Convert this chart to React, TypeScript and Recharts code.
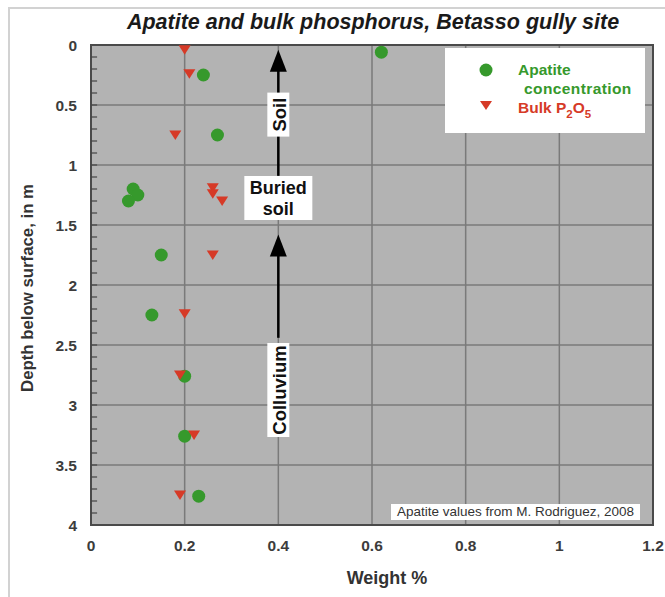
import {
  ScatterChart,
  Scatter,
  XAxis,
  YAxis,
  CartesianGrid,
  ReferenceArea,
  ReferenceLine,
  ReferenceDot,
  Legend,
} from "recharts";

const FONT = '"Liberation Sans", Arial, sans-serif';
const GREEN = "#36992c";
const RED = "#d63a27";

// Apatite concentration (weight %) vs depth (m)
const APATITE_DEPTH = [0.06, 0.25, 0.75, 1.2, 1.25, 1.3, 1.75, 2.25, 2.76, 3.26, 3.76];
const APATITE_WT = [0.62, 0.24, 0.27, 0.09, 0.1, 0.08, 0.15, 0.13, 0.2, 0.2, 0.23];

// Bulk P2O5 (weight %) vs depth (m)
const BULK_DEPTH = [0.04, 0.24, 0.75, 1.19, 1.24, 1.3, 1.75, 2.24, 2.75, 3.25, 3.75];
const BULK_WT = [0.2, 0.21, 0.18, 0.26, 0.26, 0.28, 0.26, 0.2, 0.19, 0.22, 0.19];

const X_TICKS = [0, 0.2, 0.4, 0.6, 0.8, 1, 1.2];
const Y_TICKS = [0, 0.5, 1, 1.5, 2, 2.5, 3, 3.5, 4];
// minor depth ticks every 0.1 m (drawn inside the left edge)
const Y_MINOR = Array.from({ length: 39 }, (_, i) => (i + 1) / 10);
const MINOR_LEN = 0.013;

// horizon annotations along x = 0.4
const ARROW_X = 0.4;
const ARROW_TIPS = [0.04, 1.58];
const ARROW_SHAFTS: [number, number][] = [
  [0.2, 1.09],
  [1.75, 2.44],
];
const HORIZONS = [
  { depth: 0.58, lines: ["Soil"], w: 22, h: 44, rotate: true },
  { depth: 1.275, lines: ["Buried", "soil"], w: 68, h: 44, rotate: false },
  { depth: 2.875, lines: ["Colluvium"], w: 22, h: 94, rotate: true },
];

const apatite = APATITE_WT.map((x, i) => ({ x, y: APATITE_DEPTH[i] }));
const bulk = BULK_WT.map((x, i) => ({ x, y: BULK_DEPTH[i] }));

function GreenDot(props: any) {
  const { cx, cy } = props;
  if (cx == null || cy == null) return null;
  return <circle cx={cx} cy={cy} r={6.5} fill={GREEN} />;
}

function RedTriangle(props: any) {
  const { cx, cy } = props;
  if (cx == null || cy == null) return null;
  return (
    <polygon
      points={`${cx - 6},${cy - 4.5} ${cx + 6},${cy - 4.5} ${cx},${cy + 5}`}
      fill={RED}
    />
  );
}

function ArrowHead(props: any) {
  const { cx, cy } = props;
  return (
    <polygon
      points={`${cx},${cy} ${cx - 8.5},${cy + 22} ${cx + 8.5},${cy + 22}`}
      fill="#000"
    />
  );
}

function makeBox(lines: string[], w: number, h: number, rotate: boolean) {
  return (props: any) => {
    const { cx, cy } = props;
    const textProps = {
      textAnchor: "middle" as const,
      dominantBaseline: "central" as const,
      fontFamily: FONT,
      fontWeight: "bold",
      fill: "#111",
    };
    return (
      <g>
        <rect x={cx - w / 2} y={cy - h / 2} width={w} height={h} fill="#fff" />
        {rotate ? (
          <text
            x={cx}
            y={cy + 1}
            transform={`rotate(-90 ${cx} ${cy})`}
            fontSize={18.5}
            {...textProps}
          >
            {lines[0]}
          </text>
        ) : (
          lines.map((t, i) => (
            <text
              key={t}
              x={cx}
              y={cy + (i - (lines.length - 1) / 2) * 21}
              fontSize={18}
              {...textProps}
            >
              {t}
            </text>
          ))
        )}
      </g>
    );
  };
}

function LegendBox() {
  return (
    <div
      style={{
        width: 200,
        height: 85,
        background: "#fff",
        position: "relative",
        fontFamily: FONT,
        fontWeight: "bold",
        fontSize: 15.5,
        lineHeight: "14px",
        whiteSpace: "nowrap",
      }}
    >
      <svg width={60} height={85} style={{ position: "absolute", left: 0, top: 0 }}>
        <circle cx={41} cy={22} r={6.5} fill={GREEN} />
        <polygon points="35,53 47,53 41,62" fill={RED} />
      </svg>
      <div style={{ position: "absolute", left: 73, top: 15, color: GREEN }}>Apatite</div>
      <div style={{ position: "absolute", left: 79, top: 34, color: GREEN, letterSpacing: 0.4 }}>
        concentration
      </div>
      <div style={{ position: "absolute", left: 73, top: 53, color: RED }}>
        Bulk P<sub style={{ fontSize: 11.5, verticalAlign: -5 }}>2</sub>O
        <sub style={{ fontSize: 11.5, verticalAlign: -5 }}>5</sub>
      </div>
    </div>
  );
}

const tickStyle = { fontSize: 15.5, fontWeight: "bold", fill: "#3c3c3c", fontFamily: FONT };

export default function App() {
  return (
    <div
      style={{
        position: "absolute",
        left: 0,
        top: 0,
        width: 665,
        height: 597,
        background: "#fff",
        fontFamily: FONT,
      }}
    >
      <div
        style={{
          position: "absolute",
          left: 8,
          top: 7,
          right: 0,
          bottom: 0,
          borderLeft: "2px solid #d2d2d2",
          borderTop: "2px solid #d2d2d2",
        }}
      />
      <ScatterChart
        width={665}
        height={597}
        margin={{ top: 45, right: 12, bottom: 42, left: 0 }}
      >
        <CartesianGrid
          fill="#b3b3b3"
          stroke="#7a7a7a"
          strokeWidth={1.5}
          strokeDasharray=""
        />
        <XAxis
          dataKey="x"
          type="number"
          domain={[0, 1.2]}
          ticks={X_TICKS}
          tick={tickStyle}
          tickLine={false}
          axisLine={false}
          tickMargin={9}
          height={30}
        />
        <YAxis
          dataKey="y"
          type="number"
          domain={[0, 4]}
          reversed
          ticks={Y_TICKS}
          tick={tickStyle}
          tickLine={false}
          axisLine={false}
          tickMargin={8}
          width={91}
        />
        {Y_MINOR.map((d) => (
          <ReferenceLine
            key={"m" + d}
            segment={[
              { x: 0, y: d },
              { x: MINOR_LEN, y: d },
            ]}
            stroke="#444"
            strokeWidth={1.2}
            ifOverflow="visible"
          />
        ))}
        <ReferenceArea
          x1={0}
          x2={1.2}
          y1={0}
          y2={4}
          fill="none"
          stroke="#4a4a4a"
          strokeWidth={2}
        />
        {ARROW_SHAFTS.map(([a, b], i) => (
          <ReferenceLine
            key={i}
            segment={[
              { x: ARROW_X, y: a },
              { x: ARROW_X, y: b },
            ]}
            stroke="#000"
            strokeWidth={2.5}
          />
        ))}
        {ARROW_TIPS.map((d, i) => (
          <ReferenceDot key={"tip" + i} x={ARROW_X} y={d} shape={ArrowHead} />
        ))}
        {HORIZONS.map((h) => (
          <ReferenceDot
            key={h.lines.join(" ")}
            x={ARROW_X}
            y={h.depth}
            shape={makeBox(h.lines, h.w, h.h, h.rotate)}
          />
        ))}
        <Scatter
          name="Apatite concentration"
          data={apatite}
          shape={GreenDot}
          isAnimationActive={false}
        />
        <Scatter
          name="Bulk P2O5"
          data={bulk}
          shape={RedTriangle}
          isAnimationActive={false}
        />
        <Legend
          layout="vertical"
          verticalAlign="middle"
          align="center"
          wrapperStyle={{ left: 445, top: 48, width: 200, height: 85 }}
          content={() => <LegendBox />}
        />
      </ScatterChart>
      <div
        style={{
          position: "absolute",
          left: 373,
          top: 22,
          transform: "translate(-50%, -50%)",
          whiteSpace: "nowrap",
          fontSize: 21.5,
          fontWeight: "bold",
          fontStyle: "italic",
          color: "#1a1a1a",
        }}
      >
        Apatite and bulk phosphorus, Betasso gully site
      </div>
      <div
        style={{
          position: "absolute",
          left: 28,
          top: 288,
          transform: "translate(-50%, -50%) rotate(-90deg)",
          whiteSpace: "nowrap",
          fontSize: 16.8,
          fontWeight: "bold",
          color: "#333",
        }}
      >
        Depth below surface, in m
      </div>
      <div
        style={{
          position: "absolute",
          left: 387,
          top: 578,
          transform: "translate(-50%, -50%)",
          whiteSpace: "nowrap",
          fontSize: 18,
          fontWeight: "bold",
          color: "#333",
        }}
      >
        Weight %
      </div>
      <div
        style={{
          position: "absolute",
          left: 391,
          top: 504,
          width: 249,
          height: 16,
          background: "#fff",
          fontSize: 13.5,
          lineHeight: "16px",
          textAlign: "center",
          color: "#333",
          whiteSpace: "nowrap",
        }}
      >
        Apatite values from M. Rodriguez, 2008
      </div>
    </div>
  );
}
